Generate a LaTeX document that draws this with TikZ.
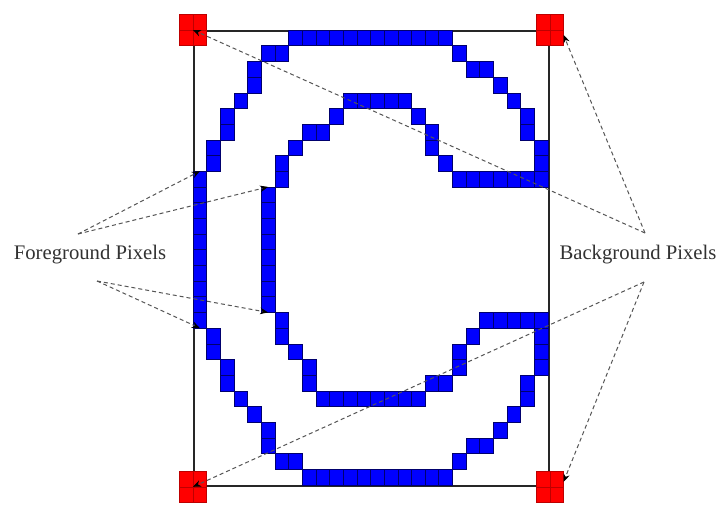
\documentclass[tikz,border=0pt]{standalone}
\usepackage{fontspec}
\setmainfont{Liberation Serif}
\usetikzlibrary{arrows.meta}
\definecolor{pxblue}{RGB}{0,0,255}
\definecolor{pxedge}{RGB}{0,0,110}
\definecolor{pxred}{RGB}{255,0,0}
\definecolor{rededge}{RGB}{190,0,0}
\definecolor{dashgray}{RGB}{85,85,85}
\definecolor{txtgray}{RGB}{50,50,50}
\newcommand\pxrow[3]{\foreach \cc in {#2,...,#3}{\path[pixel] ({193+\cc*13.65},{30+#1*15.69}) rectangle ++(13.65,15.69);}}
\newcommand\pxcol[3]{\foreach \rr in {#2,...,#3}{\path[pixel] ({193+#1*13.65},{30+\rr*15.69}) rectangle ++(13.65,15.69);}}
\begin{document}
\begin{tikzpicture}[x=1pt,y=-1pt,
  pixel/.style={fill=pxblue,draw=pxedge,line width=0.5pt},
  redpx/.style={rectangle,inner sep=0pt,minimum width=27.3pt,minimum height=31.38pt,fill=pxred,draw=rededge,line width=0.4pt},
  reddiv/.style={draw=rededge,line width=0.4pt},
  framebox/.style={rectangle,draw=black!85,line width=1.8pt,inner sep=0pt,minimum width=354.9pt,minimum height=455pt,anchor=north west},
  lbl/.style={inner sep=1pt,text=txtgray,font=\fontsize{20.7}{24}\selectfont},
  ptr/.style={draw=dashgray,line width=1pt,dash pattern=on 4pt off 3pt,-{Stealth[length=8pt,width=6.5pt,color=black]}}]
\useasboundingbox (0,0) rectangle (720,504);
\fill[white] (0,0) rectangle (720,504);
\node (frame) [framebox] at (193,30) {};
% outer and inner outline of the C
\pxrow{0}{7}{18}
\pxrow{1}{5}{6} \pxrow{1}{19}{19}
\pxrow{2}{4}{4} \pxrow{2}{20}{21}
\pxrow{3}{4}{4} \pxrow{3}{22}{22}
\pxrow{4}{3}{3} \pxrow{4}{23}{23} \pxrow{4}{11}{15}
\pxcol{2}{5}{6} \pxcol{24}{5}{6} \pxrow{5}{10}{10} \pxrow{5}{16}{16}
\pxrow{6}{8}{9} \pxcol{17}{6}{7}
\pxcol{1}{7}{8} \pxcol{25}{7}{8} \pxrow{7}{7}{7}
\pxcol{6}{8}{9} \pxrow{8}{18}{18}
\pxcol{0}{9}{18} \pxrow{9}{19}{25}
\pxcol{5}{10}{17}
\pxcol{6}{18}{19} \pxrow{18}{21}{25}
\pxcol{1}{19}{20} \pxcol{25}{19}{21} \pxrow{19}{20}{20}
\pxrow{20}{7}{7} \pxcol{19}{20}{21}
\pxcol{2}{21}{22} \pxcol{8}{21}{22}
\pxcol{24}{22}{23} \pxrow{22}{17}{18}
\pxrow{23}{3}{3} \pxrow{23}{9}{16}
\pxrow{24}{4}{4} \pxrow{24}{23}{23}
\pxcol{5}{25}{26} \pxrow{25}{22}{22}
\pxrow{26}{20}{21}
\pxrow{27}{6}{7} \pxrow{27}{19}{19}
\pxrow{28}{8}{18}
% red background corner pixels
\node (tl) [redpx] at (frame.north west) {};
\node (tr) [redpx] at (frame.north east) {};
\node (bl) [redpx] at (frame.south west) {};
\node (br) [redpx] at (frame.south east) {};
\foreach \n in {tl,tr,bl,br}{\draw[reddiv] (\n.north) -- (\n.south) (\n.west) -- (\n.east);}
% labels
\node (fg) [lbl] at (90,255) {Foreground Pixels};
\node (bg) [lbl] at (638,255) {Background Pixels};
% arrow ends
\coordinate (fgU) at (78,234);
\coordinate (fgD) at (97,281);
\coordinate (bgU) at (645,233);
\coordinate (bgD) at (644,282);
\coordinate (ltop) at ({193+0.5*13.65},{30+9*15.69});
\coordinate (lbot) at ({193+0.5*13.65},{30+19*15.69});
\coordinate (itop) at ({193+5.5*13.65},{30+10*15.69});
\coordinate (ibot) at ({193+5.5*13.65},{30+18*15.69});
% connectors
\draw[ptr] (fgU) -- (ltop);
\draw[ptr] (fgU) -- (itop);
\draw[ptr] (fgD) -- (lbot);
\draw[ptr] (fgD) -- (ibot);
\draw[ptr] (bgU) -- (frame.north west);
\draw[ptr] (bgU) -- ([yshift=-5pt]tr.east);
\draw[ptr] (bgD) -- (frame.south west);
\draw[ptr] (bgD) -- ([yshift=5pt]br.east);
\end{tikzpicture}
\end{document}
